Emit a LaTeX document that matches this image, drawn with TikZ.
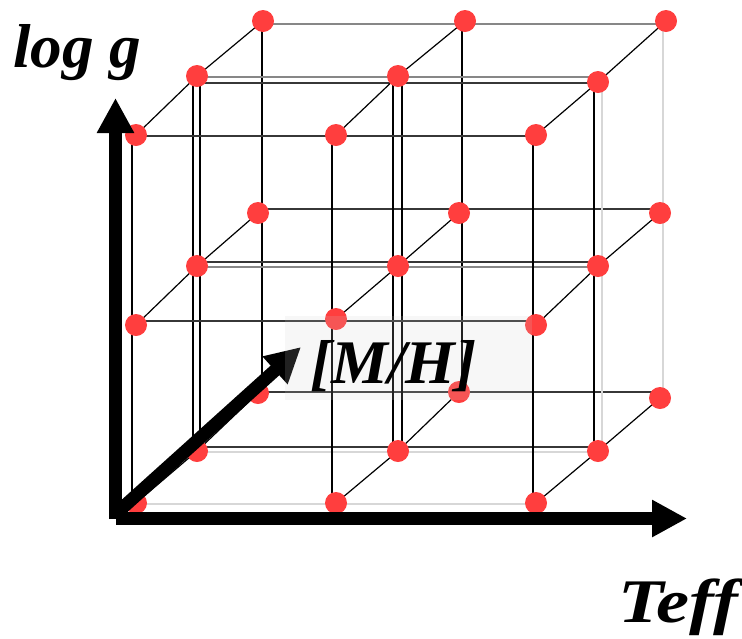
\documentclass[tikz,border=0pt]{standalone}
\usepackage{fontspec}
\setmainfont{Liberation Serif}
\usetikzlibrary{arrows.meta,calc}
\definecolor{dotred}{RGB}{255,62,62}
\definecolor{lgray}{RGB}{215,215,215}
\definecolor{mgray}{RGB}{135,135,135}
\definecolor{dgray}{RGB}{55,55,55}
\definecolor{boxgray}{RGB}{206,206,206}
\begin{document}
\begin{tikzpicture}[x=1pt,y=-1pt,
  dot/.style={circle,fill=dotred,inner sep=0pt,minimum size=22pt},
  gl/.style={line width=1.2pt,black},
  gm/.style={line width=1.2pt,mgray},
  gd/.style={line width=1.2pt,dgray},
  gll/.style={line width=1.2pt,lgray},
  axis/.style={line width=13pt,black,-{Triangle[length=35pt,width=35pt]}},
  lbl/.style={font=\fontsize{62}{62}\selectfont\bfseries\itshape,inner sep=0pt,anchor=base west}]
\useasboundingbox (0,0) rectangle (742,638);
% front layer
\coordinate (f00) at (136,135); \coordinate (f10) at (336,135); \coordinate (f20) at (536,135);
\coordinate (f01) at (136,325); \coordinate (f11) at (336,319); \coordinate (f21) at (536,325);
\coordinate (f02) at (136,503); \coordinate (f12) at (336,503); \coordinate (f22) at (536,503);
% middle layer
\coordinate (m00) at (197,76);  \coordinate (m10) at (398,76);  \coordinate (m20) at (598,82);
\coordinate (m01) at (197,266); \coordinate (m11) at (398,266); \coordinate (m21) at (598,266);
\coordinate (m02) at (197,451); \coordinate (m12) at (398,451); \coordinate (m22) at (598,451);
% back layer
\coordinate (b00) at (263,21);  \coordinate (b10) at (465,21);  \coordinate (b20) at (666,21);
\coordinate (b01) at (258,213); \coordinate (b11) at (459,213); \coordinate (b21) at (660,213);
\coordinate (b02) at (258,393); \coordinate (b12) at (459,392); \coordinate (b22) at (660,398);

% back layer lines
\draw[gm] ($(b00)+(0,3)$) -- ($(b20)+(-3,3)$);
\draw[gd] ($(b01)+(0,-4)$) -- ($(b21)+(0,-4)$);
\draw[gd] ($(b02)+(0,-1)$) -- ($(b22)+(0,-6)$);
\draw[gl] ($(b00)+(-1,0)$) -- ($(b02)+(4,0)$);
\draw[gl] ($(b10)+(-3,0)$) -- ($(b12)+(3,0)$);
\draw[gll] ($(b20)+(-3,0)$) -- ($(b22)+(3,0)$);
% middle layer lines
\draw[gm] ($(m00)+(0,1)$) -- ($(m20)+(4,-5)$);
\draw[gd] ($(m00)+(0,7)$) -- ($(m20)+(0,1)$);
\draw[gd] ($(m01)+(0,-4)$) -- ($(m21)+(0,-4)$);
\draw[gm] ($(m01)+(0,1)$) -- ($(m21)+(4,1)$);
\draw[gd] ($(m02)+(0,-4)$) -- ($(m22)+(0,-4)$);
\draw[gll] ($(m02)+(0,1)$) -- ($(m22)+(4,1)$);
\draw[gl] ($(m00)+(-4,0)$) -- ($(m02)+(-4,0)$);
\draw[gl] ($(m00)+(3,0)$) -- ($(m02)+(3,0)$);
\draw[gl] ($(m10)+(-5,0)$) -- ($(m12)+(-5,0)$);
\draw[gl] ($(m10)+(4,0)$) -- ($(m12)+(4,0)$);
\draw[gl] ($(m20)+(-4,0)$) -- ($(m22)+(-4,0)$);
\draw[gll] ($(m20)+(4,0)$) -- ($(m22)+(4,0)$);
% front layer lines
\draw[gd] ($(f00)+(0,1)$) -- ($(f20)+(0,1)$);
\draw[gd] ($(f01)+(0,-4)$) -- ($(f21)+(0,-4)$);
\draw[gll] ($(f02)+(0,1)$) -- ($(f22)+(0,1)$);
\draw[gl] ($(f00)+(-4,0)$) -- ($(f02)+(-4,0)$);
\draw[gl] ($(f10)+(-4,0)$) -- ($(f12)+(-4,0)$);
\draw[gl] ($(f20)+(-3,0)$) -- ($(f22)+(-3,0)$);
% depth lines
\foreach \c in {0,1,2}{\foreach \r in {0,1,2}{
  \draw[gl] (f\c\r) -- (m\c\r) -- (b\c\r);
}}
% dots
\foreach \l in {f,m,b}{\foreach \c in {0,1,2}{\foreach \r in {0,1,2}{
  \node[dot] (d\l\c\r) at (\l\c\r) {};
}}}
% axes
\coordinate (ybot) at (115.5,519); \coordinate (ytip) at (115.5,98);
\coordinate (xbeg) at (116,518.5); \coordinate (xtip) at (687,518.5);
\coordinate (zbeg) at (120,510);   \coordinate (ztip) at (301,347);
\draw[axis] (ybot) -- (ytip);
\draw[axis] (xbeg) -- (xtip);
\draw[axis] (zbeg) -- (ztip);
% label box
\fill[boxgray,opacity=0.165] (285,316) rectangle (532,400);
% labels
\node[lbl,xscale=1.02,transform shape] (logg) at (13,67) {log g};
\node[lbl,xscale=1.2,transform shape] (teff) at (618,622) {Teff};
\node[lbl,xscale=1.03,transform shape] (mh) at (310,383) {[M/H]};
\end{tikzpicture}
\end{document}
